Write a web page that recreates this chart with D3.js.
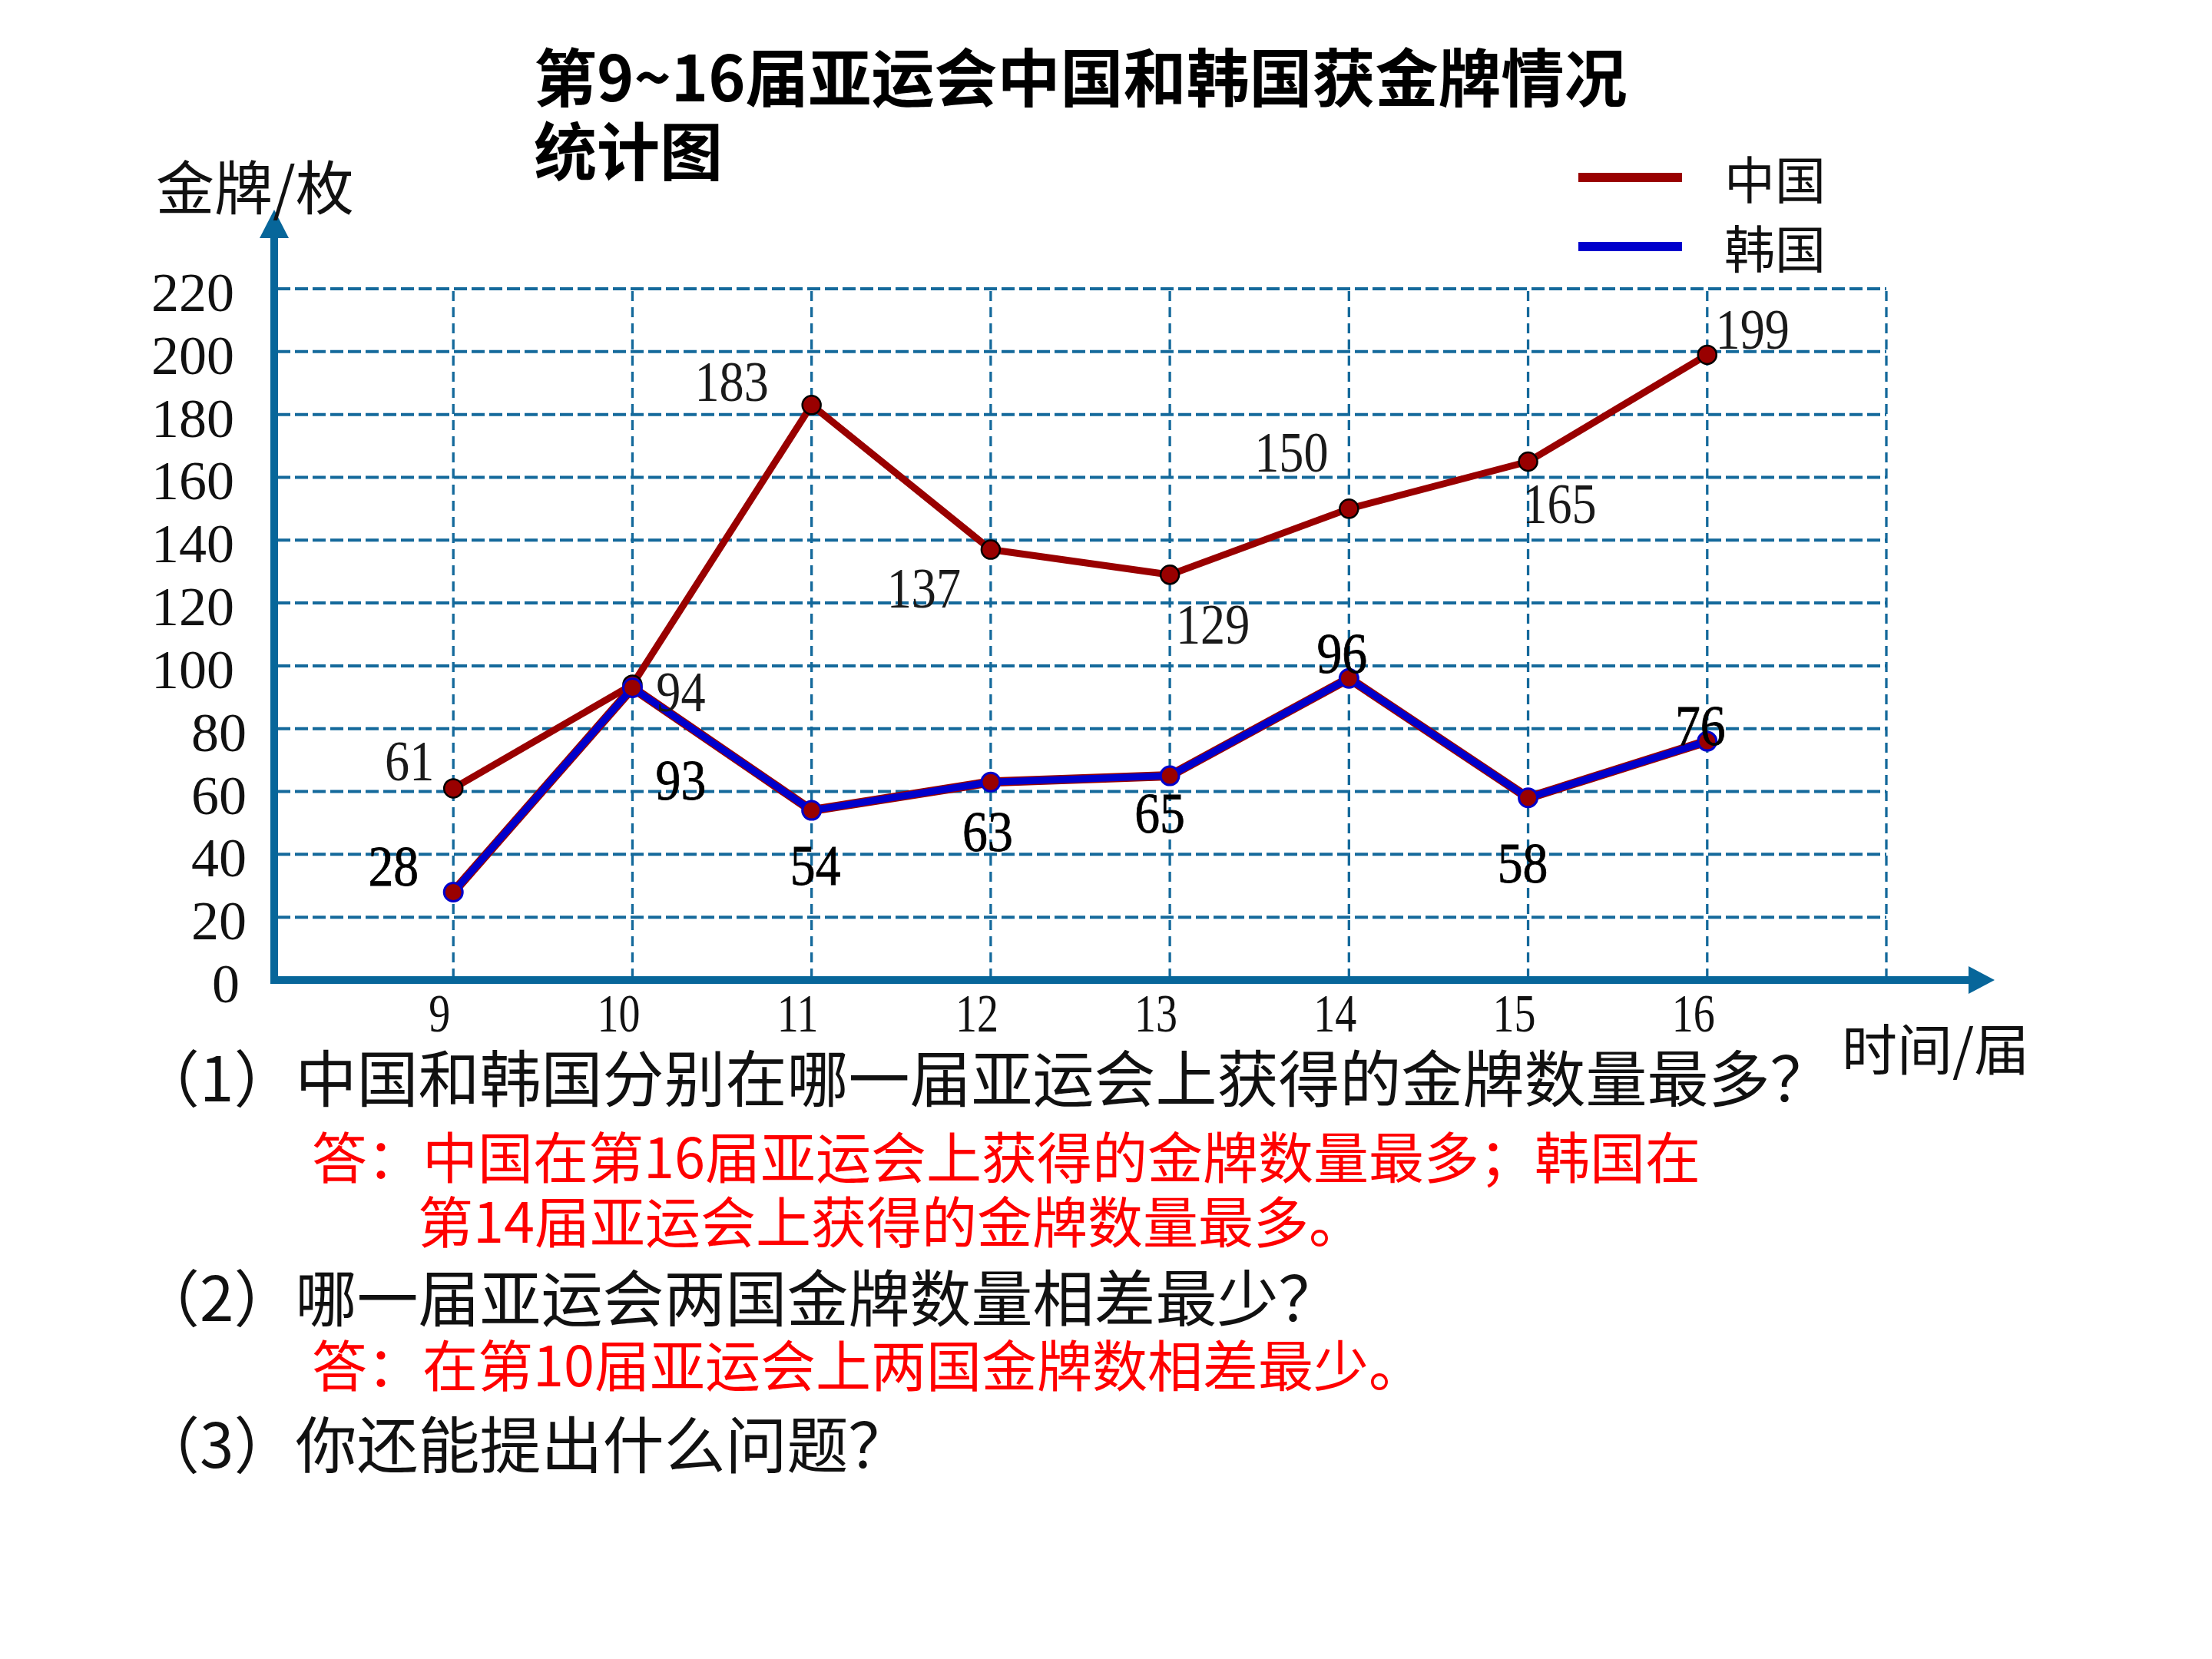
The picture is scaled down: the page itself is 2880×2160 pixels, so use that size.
<!DOCTYPE html>
<html>
<head>
<meta charset="utf-8">
<script src="https://cdn.jsdelivr.net/npm/d3@7"></script>
<style>
  html, body { margin: 0; padding: 0; background: #ffffff; }
  svg { display: block; }
</style>
</head>
<body>
<script>
// ---------------- DATA ----------------
const sessions = [9, 10, 11, 12, 13, 14, 15, 16];
const chinaGold = [61, 94, 183, 137, 129, 150, 165, 199];
const koreaGold = [28, 93, 54, 63, 65, 96, 58, 76];
const yTicks = [0, 20, 40, 60, 80, 100, 120, 140, 160, 180, 200, 220];
const seriesNames = ["中国", "韩国"];
const titleLines = ["第9~16届亚运会中国和韩国获金牌情况", "统计图"];
const yAxisTitle = "金牌/枚";
const xAxisTitle = "时间/届";
const questionLines = [
  "（1）中国和韩国分别在哪一届亚运会上获得的金牌数量最多？",
  "（2）哪一届亚运会两国金牌数量相差最少？",
  "（3）你还能提出什么问题？"
];
const answerLines = [
  "答：中国在第16届亚运会上获得的金牌数量最多；韩国在",
  "第14届亚运会上获得的金牌数量最多。",
  "答：在第10届亚运会上两国金牌数相差最少。"
];

// ---------------- LAYOUT ----------------
const W = 2880, H = 2160;
const axisX = 357, axisY = 1276;
const gridRight = 2456, gridTop = 376;
const AXIS_COLOR = "#07669A", GRID_COLOR = "#14699B";
const CHINA_COLOR = "#990000", KOREA_COLOR = "#0000CC";
const CJK = "'Noto Sans CJK SC', 'Noto Sans', sans-serif";
const SERIF = "'Liberation Serif', 'Times New Roman', serif";

// label offsets (layout only): [dx, dy] of label centre from its point
const chinaLabelOffset = [[-57,-34],[63,11],[-104,-29],[-87,51],[56,66],[-75,-72],[41,56],[59,-32]];
const koreaLabelOffset = [[-78,-32],[63,121],[5,73],[-4,66],[-13,50],[-9,-31],[-7,86],[-9,-19]];

const svg = d3.select("body").append("svg").attr("width", W).attr("height", H);
svg.append("rect").attr("width", W).attr("height", H).attr("fill", "#fff");

const x = d3.scaleLinear().domain([8, 17]).range([axisX, gridRight]);
const y = d3.scaleLinear().domain([0, 220]).range([axisY, gridTop]);

// ---------------- GRID ----------------
const grid = svg.append("g");
grid.selectAll("line.h").data(yTicks.filter(v => v > 0)).join("line")
  .attr("x1", axisX + 4).attr("x2", gridRight)
  .attr("y1", d => y(d)).attr("y2", d => y(d))
  .attr("stroke", GRID_COLOR).attr("stroke-width", 4)
  .attr("stroke-dasharray", "17 6");
grid.selectAll("line.v").data(sessions.concat([17])).join("line")
  .attr("x1", d => x(d)).attr("x2", d => x(d))
  .attr("y1", gridTop + 3).attr("y2", axisY - 4)
  .attr("stroke", GRID_COLOR).attr("stroke-width", 3.3)
  .attr("stroke-dasharray", "13 8");

// ---------------- AXES ----------------
const axes = svg.append("g");
axes.append("line").attr("x1", axisX).attr("x2", axisX).attr("y1", axisY + 5).attr("y2", 305)
  .attr("stroke", AXIS_COLOR).attr("stroke-width", 10);
axes.append("polygon").attr("points", `${axisX},273 ${axisX-19},310 ${axisX+19},310`).attr("fill", AXIS_COLOR);
axes.append("line").attr("x1", axisX - 5).attr("x2", 2568).attr("y1", axisY).attr("y2", axisY)
  .attr("stroke", AXIS_COLOR).attr("stroke-width", 10);
axes.append("polygon").attr("points", `2597,${axisY} 2563,${axisY-18} 2563,${axisY+18}`).attr("fill", AXIS_COLOR);

// y tick labels
svg.append("g").selectAll("text").data(yTicks).join("text")
  .attr("x", d => d >= 100 ? 305 : (d === 0 ? 312 : 321))
  .attr("y", d => y(d) + 29)
  .attr("text-anchor", "end")
  .attr("font-family", SERIF).attr("font-size", 72).attr("fill", "#111")
  .text(d => d);

// x tick labels
svg.append("g").selectAll("text").data(sessions).join("text")
  .attr("transform", d => `translate(${x(d) - 18},1343) scale(0.8,1)`)
  .attr("text-anchor", "middle")
  .attr("font-family", SERIF).attr("font-size", 70).attr("fill", "#111")
  .text(d => d);

// axis titles
svg.append("text").attr("x", 203).attr("y", 273)
  .attr("font-family", CJK).attr("font-size", 76).attr("fill", "#111").text(yAxisTitle);
svg.append("text").attr("x", 2398).attr("y", 1393)
  .attr("font-family", CJK).attr("font-size", 72).attr("fill", "#111").text(xAxisTitle);

// ---------------- TITLE ----------------
svg.append("g").selectAll("text").data(titleLines).join("text")
  .attr("x", 695).attr("y", (d, i) => 132 + i * 96)
  .attr("font-family", CJK).attr("font-weight", 700).attr("font-size", 82).attr("fill", "#000")
  .text(d => d);

// ---------------- LEGEND ----------------
const legend = svg.append("g");
[CHINA_COLOR, KOREA_COLOR].forEach((c, i) => {
  const cy = 231 + i * 90;
  legend.append("line").attr("x1", 2055).attr("x2", 2190).attr("y1", cy).attr("y2", cy)
    .attr("stroke", c).attr("stroke-width", 12);
  legend.append("text").attr("x", 2245).attr("y", cy + 28)
    .attr("font-family", CJK).attr("font-size", 66).attr("fill", "#111").text(seriesNames[i]);
});

// ---------------- LINES ----------------
const line = d3.line().x((d, i) => x(sessions[i])).y(d => y(d));
svg.append("path").datum(chinaGold).attr("d", line)
  .attr("fill", "none").attr("stroke", CHINA_COLOR).attr("stroke-width", 9).attr("stroke-linejoin", "round");
svg.append("g").selectAll("circle").data(chinaGold).join("circle")
  .attr("cx", (d, i) => x(sessions[i])).attr("cy", d => y(d)).attr("r", 12)
  .attr("fill", CHINA_COLOR).attr("stroke", "#000").attr("stroke-width", 2.5);

svg.append("path").datum(koreaGold).attr("d", line)
  .attr("fill", "none").attr("stroke", CHINA_COLOR).attr("stroke-width", 12).attr("stroke-linejoin", "round");
svg.append("path").datum(koreaGold).attr("d", line)
  .attr("fill", "none").attr("stroke", KOREA_COLOR).attr("stroke-width", 9).attr("stroke-linejoin", "round");
svg.append("g").selectAll("circle").data(koreaGold).join("circle")
  .attr("cx", (d, i) => x(sessions[i])).attr("cy", d => y(d)).attr("r", 12)
  .attr("fill", CHINA_COLOR).attr("stroke", KOREA_COLOR).attr("stroke-width", 3);

// ---------------- DATA LABELS ----------------
svg.append("g").selectAll("text").data(chinaGold).join("text")
  .attr("transform", (d, i) => `translate(${x(sessions[i]) + chinaLabelOffset[i][0]},${y(d) + chinaLabelOffset[i][1] + 24}) scale(0.88,1)`)
  .attr("text-anchor", "middle")
  .attr("font-family", SERIF).attr("font-size", 73).attr("fill", "#1a1a1a")
  .text(d => d);
svg.append("g").selectAll("text").data(koreaGold).join("text")
  .attr("transform", (d, i) => `translate(${x(sessions[i]) + koreaLabelOffset[i][0]},${y(d) + koreaLabelOffset[i][1] + 24}) scale(0.9,1)`)
  .attr("text-anchor", "middle")
  .attr("font-family", SERIF).attr("font-size", 73).attr("fill", "#000")
  .attr("stroke", "#000").attr("stroke-width", 0.8)
  .text(d => d);

// ---------------- QUESTIONS / ANSWERS ----------------
const qY = [1434, 1720, 1911];
svg.append("g").selectAll("text").data(questionLines).join("text")
  .attr("x", 180).attr("y", (d, i) => qY[i])
  .attr("font-family", CJK).attr("font-size", 80).attr("fill", "#111")
  .text(d => d);
const aPos = [[406, 1534], [544, 1618], [406, 1805]];
svg.append("g").selectAll("text").data(answerLines).join("text")
  .attr("x", (d, i) => aPos[i][0]).attr("y", (d, i) => aPos[i][1])
  .attr("font-family", CJK).attr("font-size", 72).attr("fill", "#FF0000")
  .text(d => d);
</script>
</body>
</html>
